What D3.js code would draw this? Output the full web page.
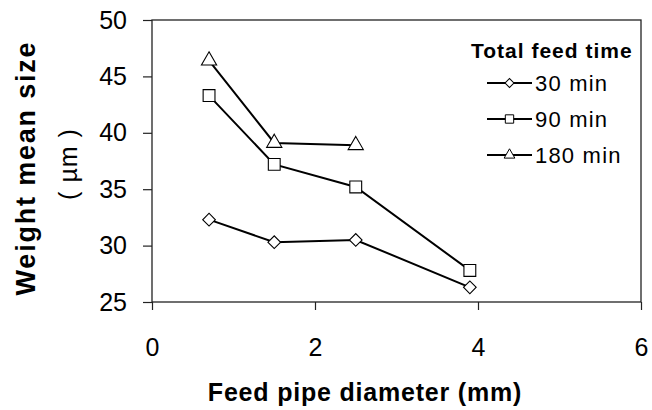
<!DOCTYPE html>
<html>
<head>
<meta charset="utf-8">
<script src="https://cdn.jsdelivr.net/npm/d3@7"></script>
<style>
  body { margin: 0; background: #fff; }
  text { font-family: "Liberation Sans", Arial, sans-serif; fill: #000; }
</style>
</head>
<body>
<div id="chart"></div>
<script>
// data
var diameters = [0.7, 1.5, 2.5, 3.9];
var size30 = [32.3, 30.3, 30.5, 26.3];
var size90 = [43.3, 37.2, 35.2, 27.8];
var size180 = [46.4, 39.1, 38.9];
var seriesNames = ["30 min", "90 min", "180 min"];
var xTicks = [0, 2, 4, 6];
var yTicks = [25, 30, 35, 40, 45, 50];

// size and plot box
var width = 652;
var height = 410;
var margin = {top: 20, right: 11, bottom: 108, left: 152};
var inner_width = width - margin.left - margin.right;
var inner_height = height - margin.top - margin.bottom;
var axis_color = "#222";

var svg = d3.select("#chart")
            .append("svg")
            .attr("width", width)
            .attr("height", height);

var g = svg.append("g")
           .attr("transform", "translate(" + margin.left + "," + margin.top + ")");

var xScale = d3.scaleLinear().domain([0, 6]).range([0, inner_width]);
var yScale = d3.scaleLinear().domain([25, 50]).range([inner_height, 0]);

// y axis (ticks out to the left)
var yAxis = g.append("g")
   .call(d3.axisLeft(yScale).tickValues(yTicks).tickFormat(d3.format("d"))
           .tickSize(9).tickPadding(16));
yAxis.select(".domain").remove();
yAxis.selectAll(".tick line").attr("stroke", axis_color).attr("stroke-width", 1.2);
yAxis.selectAll(".tick text")
     .attr("font-size", 25)
     .attr("font-family", "Liberation Sans, Arial, sans-serif")
     .attr("fill", "#000");

// x axis (ticks down)
var xAxis = g.append("g")
   .attr("transform", "translate(0," + inner_height + ")")
   .call(d3.axisBottom(xScale).tickValues(xTicks).tickFormat(d3.format("d"))
           .tickSize(8).tickPadding(28));
xAxis.select(".domain").remove();
xAxis.selectAll(".tick line").attr("stroke", axis_color).attr("stroke-width", 1.2);
xAxis.selectAll(".tick text")
     .attr("font-size", 25)
     .attr("font-family", "Liberation Sans, Arial, sans-serif")
     .attr("fill", "#000");

// frame: left, bottom, top, right
g.append("rect")
 .attr("x", 0).attr("y", 0)
 .attr("width", inner_width).attr("height", inner_height)
 .attr("fill", "none")
 .attr("stroke", axis_color)
 .attr("stroke-width", 1.3);

// series
var line = d3.line()
             .x(function(d) { return xScale(d[0]); })
             .y(function(d) { return yScale(d[1]); });

// diamond = square turned 45 degrees
var series = [
  {name: seriesNames[0], values: size30, shape: d3.symbolSquare, rot: 45, size: 80},
  {name: seriesNames[1], values: size90, shape: d3.symbolSquare, rot: 0, size: 140},
  {name: seriesNames[2], values: size180, shape: d3.symbolTriangle, rot: 0, size: 100}
];

series.forEach(function(s) {
  var pts = s.values.map(function(v, i) { return [diameters[i], v]; });
  g.append("path")
   .datum(pts)
   .attr("d", line)
   .attr("fill", "none")
   .attr("stroke", "#000")
   .attr("stroke-width", 2);
  g.selectAll(null)
   .data(pts)
   .enter().append("path")
   .attr("transform", function(d) {
     return "translate(" + xScale(d[0]) + "," + yScale(d[1]) + ") rotate(" + s.rot + ")";
   })
   .attr("d", d3.symbol().type(s.shape).size(s.size))
   .attr("fill", "#fff")
   .attr("stroke", "#000")
   .attr("stroke-width", 1.1);
});

// legend
svg.append("text")
   .attr("x", 471)
   .attr("y", 58)
   .attr("font-size", 21)
   .attr("font-weight", "bold")
   .attr("letter-spacing", 1)
   .text("Total feed time");

series.forEach(function(s, i) {
  var ly = 83 + i * 36;
  svg.append("line")
     .attr("x1", 487).attr("x2", 532)
     .attr("y1", ly).attr("y2", ly)
     .attr("stroke", "#000")
     .attr("stroke-width", 2);
  svg.append("path")
     .attr("transform", "translate(509.5," + ly + ") rotate(" + s.rot + ")")
     .attr("d", d3.symbol().type(s.shape).size(s.size * 0.5))
     .attr("fill", "#fff")
     .attr("stroke", "#000")
     .attr("stroke-width", 1);
  svg.append("text")
     .attr("x", 535)
     .attr("y", ly + 8)
     .attr("font-size", 22)
     .attr("letter-spacing", 1.2)
     .text(s.name);
});

// axis titles
svg.append("text")
   .attr("x", 365)
   .attr("y", 401)
   .attr("text-anchor", "middle")
   .attr("font-size", 25)
   .attr("font-weight", "bold")
   .attr("letter-spacing", 0.8)
   .text("Feed pipe diameter (mm)");

svg.append("text")
   .attr("transform", "translate(35,168) rotate(-90)")
   .attr("text-anchor", "middle")
   .attr("font-size", 27)
   .attr("font-weight", "bold")
   .attr("letter-spacing", 1.8)
   .text("Weight mean size");

svg.append("text")
   .attr("transform", "translate(77,164) rotate(-90)")
   .attr("text-anchor", "middle")
   .attr("font-size", 25)
   .attr("letter-spacing", 1)
   .text("( \u00b5m )");
</script>
</body>
</html>
